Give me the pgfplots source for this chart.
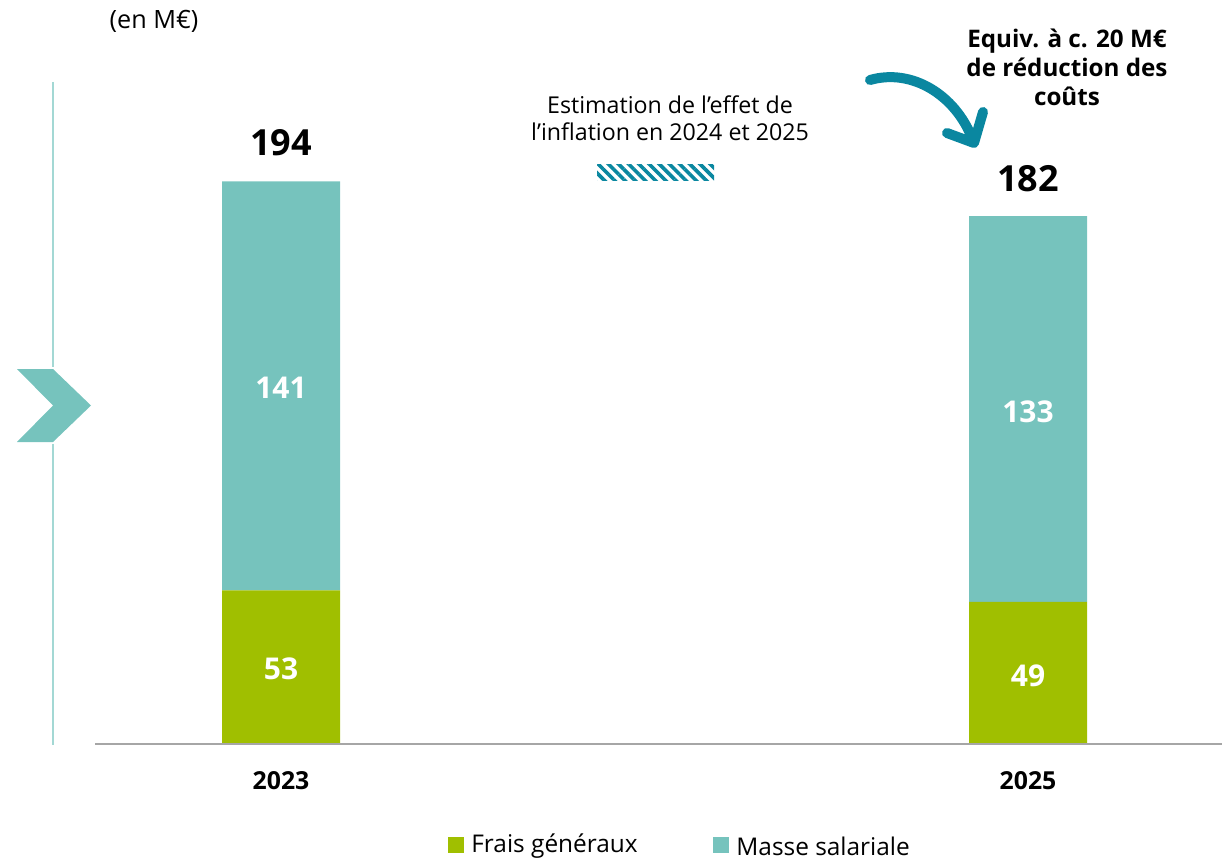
\documentclass[border=0pt]{standalone}
\usepackage{pgfplots}
\pgfplotsset{compat=1.18}
\usepackage{fontspec}
\setmainfont{Open Sans}
\usetikzlibrary{patterns.meta}
\definecolor{cgreen}{HTML}{A0BF00}
\definecolor{cteal}{HTML}{76C3BD}
\definecolor{cdark}{HTML}{0A87A0}
\definecolor{cline}{HTML}{A3D8D4}
\definecolor{cgray}{HTML}{A6A6A6}
\begin{document}
\begin{tikzpicture}
\begin{axis}[
  scale only axis, width=611pt, height=429.5pt,
  xmin=0, xmax=1222, ymin=-39.655, ymax=256.552,
  hide axis, clip=false,
  ybar stacked, bar width=118,
]
\addplot[fill=cgreen, draw=none] coordinates {(281,53) (1028,49)};
\addplot[fill=cteal, draw=none] coordinates {(281,141) (1028,133)};
\end{axis}
\begin{scope}[x=0.5pt, y=-0.5pt, shift={(0,429.5pt)}]
  % baseline
  \draw[cgray, line width=1pt] (95,744) -- (1222,744);
  % left line and chevron
  \draw[cline, line width=1pt] (53,82) -- (53,367);
  \draw[cline, line width=1pt] (53,444) -- (53,745);
  \fill[cteal] (17,369) -- (53,369) -- (91,405.5) -- (53,442) -- (17,442) -- (53,405.5) -- cycle;
  % labels
  \node[font=\fontsize{12.6}{15}\selectfont] at (154,21) {(en M€)};
  \node[font=\fontsize{18}{22}\selectfont\bfseries] at (281,143) {194};
  \node[font=\fontsize{18}{22}\selectfont\bfseries] at (1028,179) {182};
  \node[font=\fontsize{15}{18}\selectfont\bfseries, text=white] at (281,388) {141};
  \node[font=\fontsize{15}{18}\selectfont\bfseries, text=white] at (281,669) {53};
  \node[font=\fontsize{15}{18}\selectfont\bfseries, text=white] at (1028,412) {133};
  \node[font=\fontsize{15}{18}\selectfont\bfseries, text=white] at (1028,676) {49};
  \node[font=\fontsize{12.4}{14}\selectfont\bfseries] at (281,781) {2023};
  \node[font=\fontsize{12.4}{14}\selectfont\bfseries] at (1028,781) {2025};
  % inflation annotation
  \node[font=\fontsize{11.6}{13.5}\selectfont, align=center] at (670,118) {Estimation de l’effet de\\l’inflation en 2024 et 2025};
  \path[pattern={Lines[angle=-45, distance=3.6pt, line width=1.8pt]}, pattern color=cdark] (597,165) rectangle (714,181);
  % reduction annotation
  \node[font=\fontsize{12.1}{14.5}\selectfont\bfseries, align=center] at (1067,67) {Equiv. à c. 20 M€\\de réduction des\\coûts};
  \draw[cdark, line width=5pt, line cap=round] (870,80) .. controls (912,68) and (955,95) .. (972,138);
  \draw[cdark, line width=5pt, line cap=round, line join=round] (947,133) -- (974,143) -- (983,112);
  % legend
  \fill[cgreen] (448,837) rectangle (464,853);
  \node[anchor=west, font=\fontsize{12.2}{14}\selectfont, inner sep=0pt] at (471,846) {Frais généraux};
  \fill[cteal] (713,837) rectangle (729,853);
  \node[anchor=west, font=\fontsize{12.2}{14}\selectfont, inner sep=0pt] at (736,846) {Masse salariale};
\end{scope}
\pgfresetboundingbox
\useasboundingbox (0,0) rectangle (611pt,429.5pt);
\end{tikzpicture}
\end{document}
